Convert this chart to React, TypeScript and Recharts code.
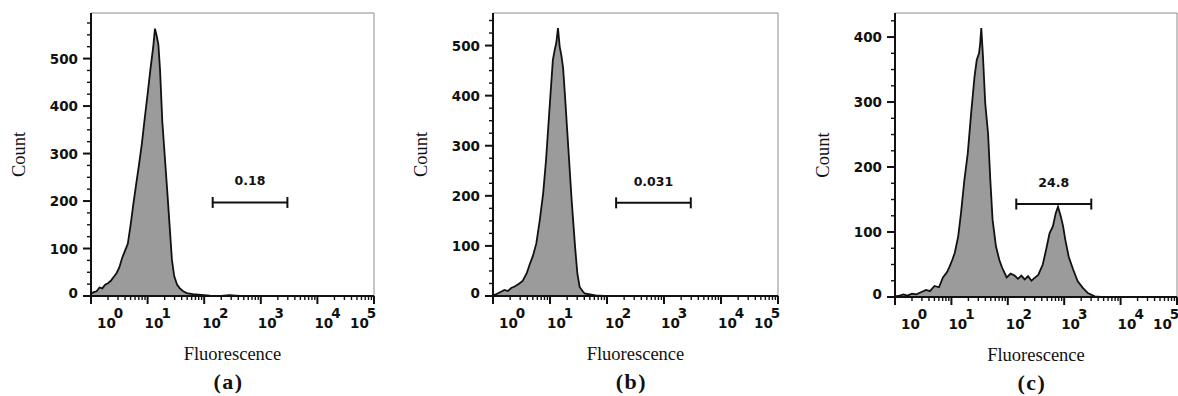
import React from 'react';
import { AreaChart, Area, XAxis, YAxis, ReferenceLine } from 'recharts';

// x values are in decades (0 = 10^0 ... 5 = 10^5)
const aDecades = [0, 0.05, 0.1, 0.15, 0.2, 0.25, 0.3, 0.35, 0.4, 0.45, 0.5, 0.55, 0.6, 0.65, 0.7, 0.75, 0.8, 0.85, 0.9, 0.95, 1.0, 1.05, 1.1, 1.13, 1.16, 1.19, 1.22, 1.26, 1.3, 1.35, 1.39, 1.43, 1.47, 1.52, 1.57, 1.63, 1.69, 1.8, 1.9, 2.0, 2.1, 2.3, 2.45, 2.55, 2.65, 5];
const aCounts = [5, 8, 10, 18, 16, 24, 27, 32, 40, 48, 60, 80, 95, 110, 150, 195, 237, 278, 322, 375, 425, 478, 525, 563, 548, 530, 476, 367, 300, 216, 146, 76, 42, 24, 16, 10, 6, 4, 3, 2, 1, 0, 2, 1, 0, 0];

const bDecades = [0, 0.08, 0.15, 0.2, 0.26, 0.32, 0.38, 0.45, 0.52, 0.59, 0.64, 0.7, 0.76, 0.82, 0.88, 0.93, 0.97, 1.01, 1.05, 1.08, 1.11, 1.14, 1.17, 1.2, 1.23, 1.26, 1.32, 1.38, 1.44, 1.48, 1.52, 1.57, 1.61, 1.7, 1.8, 1.95, 5];
const bCounts = [1, 5, 9, 12, 10, 16, 19, 24, 30, 45, 62, 80, 105, 151, 205, 271, 338, 405, 471, 490, 505, 535, 498, 480, 455, 405, 298, 191, 98, 45, 18, 10, 5, 3, 1, 0, 0];

const cDecades = [0, 0.08, 0.15, 0.22, 0.3, 0.38, 0.45, 0.55, 0.62, 0.7, 0.78, 0.85, 0.92, 0.97, 1.02, 1.06, 1.12, 1.17, 1.23, 1.29, 1.35, 1.41, 1.45, 1.49, 1.51, 1.53, 1.56, 1.6, 1.65, 1.69, 1.73, 1.79, 1.85, 1.9, 1.98, 2.05, 2.12, 2.18, 2.24, 2.3, 2.36, 2.42, 2.47, 2.54, 2.62, 2.68, 2.74, 2.8, 2.85, 2.89, 2.94, 2.98, 3.02, 3.08, 3.16, 3.24, 3.33, 3.42, 3.54, 3.65, 5];
const cCounts = [1, 2, 4, 2, 5, 4, 7, 11, 9, 17, 15, 30, 38, 47, 58, 68, 93, 129, 180, 221, 283, 339, 365, 375, 390, 414, 370, 298, 252, 180, 119, 78, 57, 45, 30, 36, 33, 28, 33, 27, 32, 25, 29, 34, 50, 73, 98, 109, 129, 139, 124, 109, 88, 62, 42, 24, 14, 6, 1, 0, 0];

const decadeTicks = [0, 1, 2, 3, 4, 5];
const minorFactors = [2, 3, 4, 5, 6, 7, 8, 9];
const yMaxes = [596, 565, 437];
const gateStarts = [2.15, 2.16, 2.15];
const gateEnds = [3.47, 3.47, 3.48];
const gateLevels = [197, 186, 143];
const gateLabels = ['0.18', '0.031', '24.8'];
const captions = ['(a)', '(b)', '(c)'];

// layout of each panel in page pixels
const panels = [
  { left: 0, width: 390, plotLeft: 91, plotRight: 374, bottom: 296 },
  { left: 400, width: 390, plotLeft: 493, plotRight: 778, bottom: 296 },
  { left: 800, width: 378, plotLeft: 895, plotRight: 1177, bottom: 297 },
];
const labelShift = [6, -3, -2, -3, -3, -24];

const INK = '#111';
const SANS = 'DejaVu Sans';
const SERIF = 'Liberation Serif';

const xTicks: number[] = [...decadeTicks];
decadeTicks.slice(0, 5).forEach((d) => minorFactors.forEach((k) => xTicks.push(d + Math.log10(k))));

function XTick(props: any) {
  const { x, y, payload } = props;
  const v = payload.value;
  const i = Math.round(v);
  if (Math.abs(v - i) > 1e-6) {
    return <line x1={x} x2={x} y1={y} y2={y + 4} stroke={INK} strokeWidth={1.4} />;
  }
  return (
    <g>
      <line x1={x} x2={x} y1={y} y2={y + 8} stroke={INK} strokeWidth={2} />
      <text x={x + labelShift[i]} y={y + 32} fontFamily={SANS} fontWeight="bold" fontSize={13.5} fill={INK}>
        10
        <tspan dx={-2} dy={-10}>{i}</tspan>
      </text>
    </g>
  );
}

function YTick(props: any) {
  const { x, y, payload } = props;
  const v = payload.value;
  const major = v % 100 === 0;
  return (
    <g>
      <line x1={x - (major ? 8 : 4)} x2={x} y1={y} y2={y} stroke={INK} strokeWidth={major ? 2 : 1.4} />
      {major && (
        <text x={x - 13} y={v === 0 ? y - 3 : y} textAnchor="end" dominantBaseline="central" fontFamily={SANS} fontWeight="bold" fontSize={13.5} fill={INK}>
          {v}
        </text>
      )}
    </g>
  );
}

function Panel({ idx, decades, counts }: { idx: number; decades: number[]; counts: number[] }) {
  const p = panels[idx];
  const ymax = yMaxes[idx];
  const data = decades.map((x, i) => ({ x, count: counts[i] }));
  const yTicks: number[] = [];
  for (let v = 0; v <= ymax; v += 25) yTicks.push(v);
  const plotH = p.bottom - 13;
  const cap = (5.5 * ymax) / plotH;
  const gy = gateLevels[idx];

  return (
    <div style={{ position: 'absolute', left: p.left, top: 0 }}>
      <AreaChart
        width={p.width}
        height={396}
        data={data}
        margin={{ top: 13, right: p.left + p.width - p.plotRight, left: 0, bottom: 0 }}
      >
        <XAxis
          dataKey="x"
          type="number"
          domain={[0, 5]}
          ticks={xTicks}
          interval={0}
          tickSize={0}
          tickMargin={0}
          tickLine={false}
          tick={<XTick />}
          height={396 - p.bottom}
          axisLine={{ stroke: INK, strokeWidth: 2 }}
          label={(lp: any) => {
            const vb = lp.viewBox;
            const cx = vb.x + vb.width / 2;
            return (
              <g>
                <text x={cx} y={vb.y + 64} textAnchor="middle" fontFamily={SERIF} fontSize={18.5} fill={INK}>
                  Fluorescence
                </text>
                <text x={cx - 4} y={vb.y + 93} textAnchor="middle" fontFamily={SERIF} fontWeight="bold" fontSize={22} letterSpacing={1.5} fill={INK}>
                  {captions[idx]}
                </text>
              </g>
            );
          }}
        />
        <YAxis
          type="number"
          domain={[0, ymax]}
          ticks={yTicks}
          interval={0}
          tickSize={0}
          tickMargin={0}
          tickLine={false}
          tick={<YTick />}
          width={p.plotLeft - p.left}
          axisLine={{ stroke: INK, strokeWidth: 2 }}
          label={(lp: any) => {
            const vb = lp.viewBox;
            const cx = vb.x + vb.width - 72;
            const cy = vb.y + vb.height / 2;
            return (
              <text x={cx} y={cy} transform={`rotate(-90 ${cx} ${cy})`} textAnchor="middle" dominantBaseline="central" fontFamily={SERIF} fontSize={18.5} fill={INK}>
                Count
              </text>
            );
          }}
        />
        <ReferenceLine y={ymax} stroke="#8c8c8c" strokeWidth={1} />
        <ReferenceLine x={5} stroke="#8c8c8c" strokeWidth={1} />
        <Area
          type="linear"
          dataKey="count"
          stroke={INK}
          strokeWidth={1.8}
          fill="#9b9b9b"
          fillOpacity={1}
          dot={false}
          activeDot={false}
          isAnimationActive={false}
        />
        <ReferenceLine
          segment={[{ x: gateStarts[idx], y: gy }, { x: gateEnds[idx], y: gy }]}
          stroke={INK}
          strokeWidth={2}
          label={{ value: gateLabels[idx], position: 'top', offset: 17, fill: INK, fontSize: 12.5, fontWeight: 'bold', fontFamily: SANS }}
        />
        <ReferenceLine segment={[{ x: gateStarts[idx], y: gy - cap }, { x: gateStarts[idx], y: gy + cap }]} stroke={INK} strokeWidth={2} />
        <ReferenceLine segment={[{ x: gateEnds[idx], y: gy - cap }, { x: gateEnds[idx], y: gy + cap }]} stroke={INK} strokeWidth={2} />
      </AreaChart>
    </div>
  );
}

export default function App() {
  return (
    <div style={{ position: 'absolute', left: 0, top: 0, width: 1178, height: 396, background: '#fff', overflow: 'hidden' }}>
      <Panel idx={0} decades={aDecades} counts={aCounts} />
      <Panel idx={1} decades={bDecades} counts={bCounts} />
      <Panel idx={2} decades={cDecades} counts={cCounts} />
    </div>
  );
}
